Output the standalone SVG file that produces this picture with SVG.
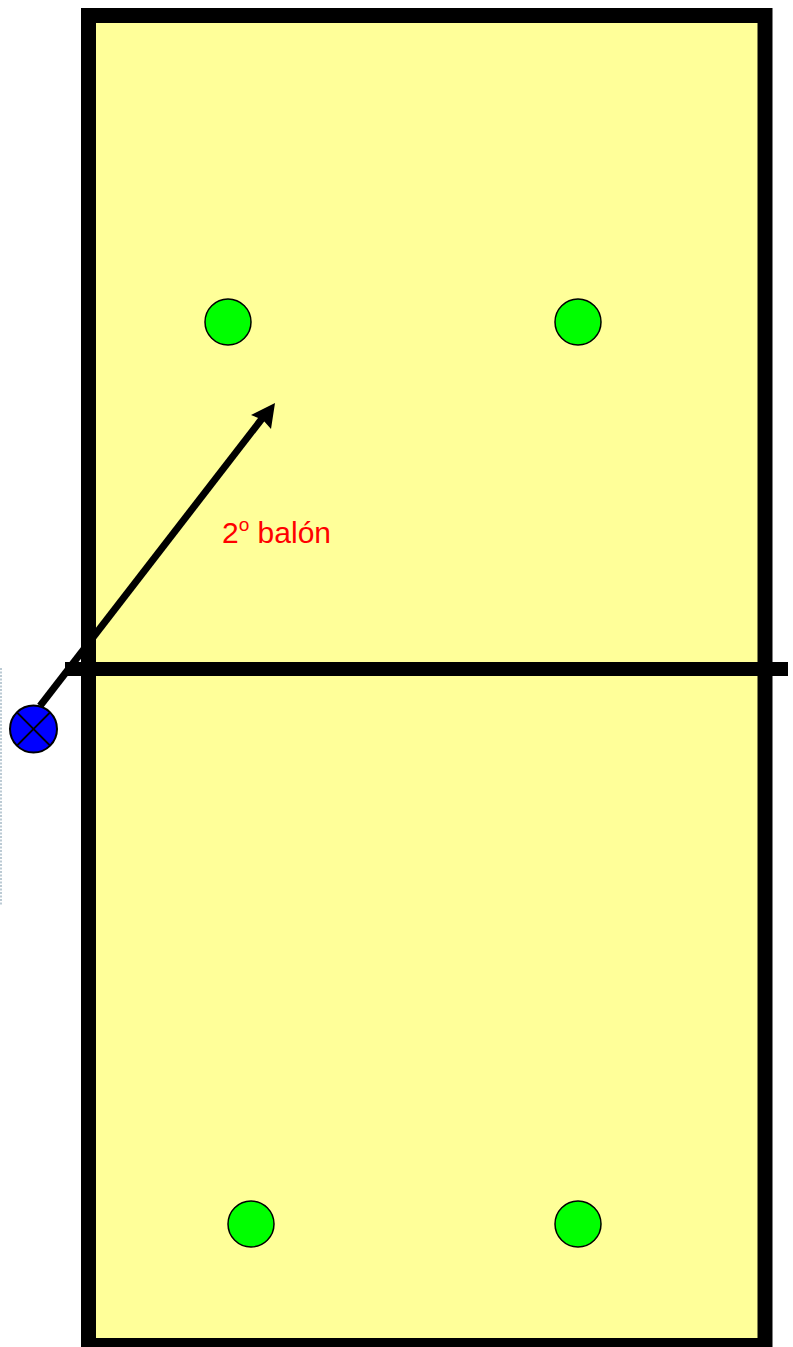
<svg xmlns="http://www.w3.org/2000/svg" width="793" height="1347" viewBox="0 0 793 1347">
<style>
.player{fill:#00ff00;stroke:#000;stroke-width:1.5}
.label{font-family:"Liberation Sans",Arial,sans-serif;fill:#ff0000;font-size:30px}
</style>
<rect width="793" height="1347" fill="#fff"/>
<line x1="1" y1="668" x2="1" y2="905" stroke="#8fa8b8" stroke-width="1.2" stroke-dasharray="2,1.5"/>
<g id="court">
<rect x="88.5" y="15.5" width="676.5" height="1330" fill="#ffff99" stroke="#000" stroke-width="15"/>
</g>
<g id="net">
<line x1="65" y1="669" x2="788" y2="669" stroke="#000" stroke-width="14"/>
</g>
<g id="p1"><circle class="player" cx="228" cy="322" r="23"/></g>
<g id="p2"><circle class="player" cx="578" cy="322" r="23"/></g>
<g id="p3"><circle class="player" cx="251" cy="1224" r="23"/></g>
<g id="p4"><circle class="player" cx="578" cy="1224" r="23"/></g>
<g id="connectors">
<line x1="40" y1="706" x2="264" y2="416" stroke="#000" stroke-width="7"/>
<polygon points="275,403 251,415 263,420 271,429" fill="#000"/>
</g>
<g id="server">
<circle cx="33.5" cy="729" r="23.5" fill="#0000ff" stroke="#000" stroke-width="2"/>
<line x1="16.9" y1="712.4" x2="50.1" y2="745.6" stroke="#000" stroke-width="2"/>
<line x1="50.1" y1="712.4" x2="16.9" y2="745.6" stroke="#000" stroke-width="2"/>
</g>
<g id="label">
<text class="label" x="222" y="543">2<tspan font-size="19" dy="-12">o</tspan><tspan dy="12"> balón</tspan></text>
</g>
</svg>
